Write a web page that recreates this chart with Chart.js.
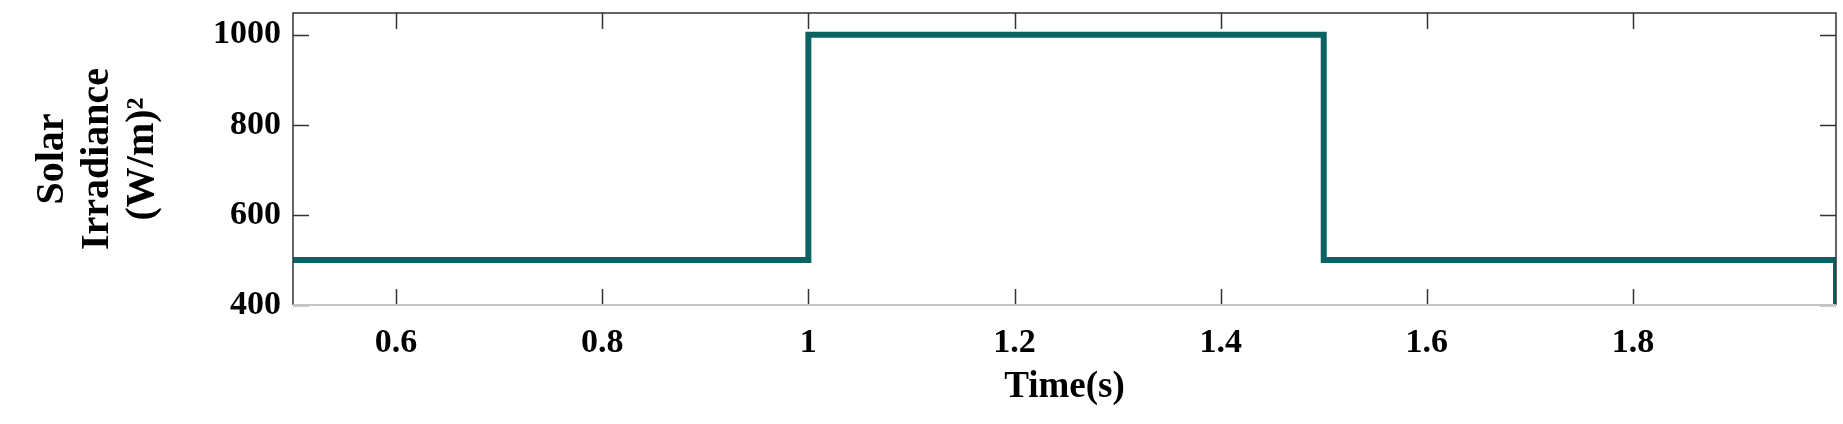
<!DOCTYPE html>
<html>
<head>
<meta charset="utf-8">
<script src="https://cdn.jsdelivr.net/npm/chart.js@4/dist/chart.umd.min.js"></script>
<style>
  html, body { margin: 0; padding: 0; background: #fff; }
  #irradiance { display: block; }
</style>
</head>
<body>
<canvas id="irradiance" width="1843" height="424"></canvas>
<script>
// step profile of the irradiance input
const timeS = [0.5, 1.0, 1.0, 1.5, 1.5, 1.997, 1.997]
const irradiance = [500, 500, 1000, 1000, 500, 500, 400]

const xTicks = [0.6, 0.8, 1.0, 1.2, 1.4, 1.6, 1.8]
const xTickLabels = ['0.6', '0.8', '1', '1.2', '1.4', '1.6', '1.8']
const yTicks = [400, 600, 800, 1000]
const yTickLabels = ['400', '600', '800', '1000']

const serif = "'Liberation Serif', 'Times New Roman', serif"

// matlab style box with inward ticks
const boxTicks = {
  id: 'boxTicks',
  afterDraw (chart) {
    const { ctx, chartArea: a, scales } = chart
    const len = 16
    ctx.save()
    ctx.strokeStyle = '#333'
    ctx.lineWidth = 1.5
    ctx.beginPath()
    xTicks.forEach(v => {
      const px = Math.round(scales.x.getPixelForValue(v)) + 0.5
      ctx.moveTo(px, a.bottom); ctx.lineTo(px, a.bottom - len)
      ctx.moveTo(px, a.top); ctx.lineTo(px, a.top + len)
    })
    yTicks.forEach(v => {
      const py = Math.round(scales.y.getPixelForValue(v)) + 0.5
      ctx.moveTo(a.left, py); ctx.lineTo(a.left + len, py)
      ctx.moveTo(a.right, py); ctx.lineTo(a.right - len, py)
    })
    ctx.stroke()
    ctx.beginPath()
    ctx.moveTo(a.left, a.bottom); ctx.lineTo(a.left, a.top)
    ctx.lineTo(a.right, a.top); ctx.lineTo(a.right, a.bottom)
    ctx.stroke()
    ctx.strokeStyle = '#c4c4c4'
    ctx.lineWidth = 2
    ctx.beginPath()
    ctx.moveTo(a.left, a.bottom); ctx.lineTo(a.right, a.bottom)
    ctx.stroke()
    ctx.restore()
  }
}

const ctx = document.querySelector('#irradiance')
const irrChart = new Chart(ctx, {
  type: 'line',
  data: {
    datasets: [{
      data: timeS.map((t, i) => ({ x: t, y: irradiance[i] })),
      borderColor: '#0b6262',
      borderWidth: 6,
      pointRadius: 0,
      fill: false,
      tension: 0,
      borderJoinStyle: 'miter'
    }]
  },
  options: {
    responsive: false,
    animation: false,
    layout: { padding: { left: 0, top: 13, right: 7, bottom: 0 } },
    plugins: { legend: { display: false }, tooltip: { enabled: false } },
    scales: {
      x: {
        type: 'linear',
        min: 0.5,
        max: 1.997,
        afterFit: s => { s.height = 119; s.paddingLeft = 0; s.paddingRight = 0 },
        afterBuildTicks: s => { s.ticks = xTicks.map(v => ({ value: v })) },
        grid: { display: false, drawTicks: false },
        border: { display: false },
        ticks: {
          padding: 18,
          color: '#000',
          font: { family: serif, size: 34, weight: 'bold' },
          maxRotation: 0,
          autoSkip: false,
          callback: (v, i) => xTickLabels[i]
        },
        title: {
          display: true,
          text: 'Time(s)',
          color: '#000',
          font: { family: serif, size: 37, weight: 'bold' },
          padding: { top: 0, bottom: 14 }
        }
      },
      y: {
        min: 400,
        max: 1048,
        afterFit: s => { s.width = 293; s.paddingTop = 0; s.paddingBottom = 0 },
        afterBuildTicks: s => { s.ticks = yTicks.map(v => ({ value: v })) },
        grid: { display: false, drawTicks: false },
        border: { display: false },
        ticks: {
          padding: 12,
          color: '#000',
          font: { family: serif, size: 34, weight: 'bold' },
          callback: (v, i) => yTickLabels[i]
        },
        title: {
          display: true,
          text: ['Solar', 'Irradiance', '(W/m)²'],
          color: '#000',
          font: { family: serif, size: 40, weight: 'bold', lineHeight: 1.125 },
          padding: { top: 30, bottom: 0 }
        }
      }
    }
  },
  plugins: [boxTicks]
})
</script>
</body>
</html>
